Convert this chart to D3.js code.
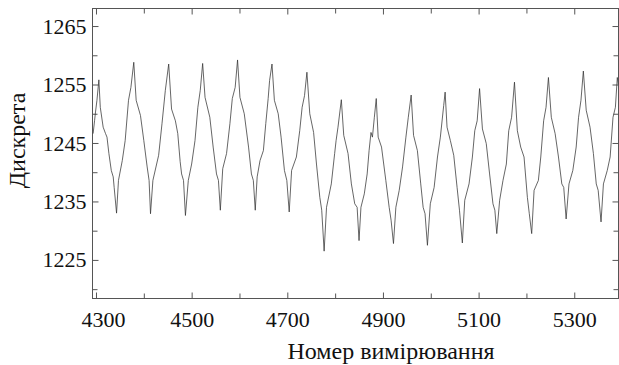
<!DOCTYPE html>
<html>
<head>
<meta charset="utf-8">
<script src="https://cdn.jsdelivr.net/npm/d3@7"></script>
<style>
  html, body { margin: 0; padding: 0; background: #fff; }
  svg text { font-family: "Liberation Serif", "Times New Roman", Times, "DejaVu Serif", serif !important; fill: #111; }
</style>
</head>
<body>
<svg id="chart" width="619" height="365"></svg>
<script>
const measurement = [
  4294,4297,4299,4302,4306,4309,4315,4320,4323,4327,4332,4336,4338,4343,4347,4355,4361,4368,4373,4379,
  4384,4393,4400,4407,4411,4414,4419,4431,4438,4445,4452,4458,4466,4471,4476,4479,4483,4487,4493,4500,
  4507,4513,4518,4523,4528,4538,4545,4552,4556,4560,4565,4573,4580,4585,4591,4596,4601,4610,4619,4625,
  4629,4633,4637,4643,4650,4655,4660,4663,4668,4673,4681,4687,4694,4699,4704,4709,4719,4726,4731,4736,
  4741,4747,4755,4761,4768,4772,4777,4782,4792,4799,4802,4806,4813,4818,4827,4834,4841,4846,4850,4854,
  4861,4867,4871,4875,4878,4882,4886,4890,4897,4906,4913,4917,4922,4927,4934,4941,4948,4953,4959,4964,
  4972,4979,4984,4988,4993,4999,5007,5014,5020,5027,5030,5034,5041,5048,5055,5060,5066,5071,5080,5087,
  5092,5097,5102,5108,5116,5123,5130,5134,5138,5144,5151,5158,5163,5169,5175,5181,5188,5195,5202,5206,
  5211,5216,5225,5230,5236,5241,5246,5252,5260,5267,5274,5278,5283,5289,5297,5304,5309,5314,5319,5325,
  5333,5340,5346,5350,5356,5361,5369,5375,5381,5386,5390,5392
];
const discrete = [
  1246.6,1248.8,1250.3,1252.3,1255.8,1251.1,1247.7,1246.6,1246.0,1243.2,1240.3,1239.2,1237.4,1233.0,1238.6,1242.0,1245.4,1252.3,1254.5,1258.8,
  1252.3,1249.7,1245.4,1240.9,1238.6,1232.9,1238.6,1242.9,1248.3,1254.0,1258.5,1250.8,1248.8,1246.6,1241.8,1239.7,1238.6,1232.6,1238.6,1241.4,
  1245.4,1251.1,1254.0,1258.6,1252.8,1249.4,1244.3,1239.7,1238.6,1233.5,1240.6,1243.2,1248.3,1252.6,1254.5,1259.2,1252.8,1250.0,1244.3,1239.7,
  1238.6,1233.5,1239.2,1242.0,1243.7,1248.3,1252.6,1255.7,1258.5,1252.3,1250.0,1246.0,1240.3,1238.6,1233.2,1240.3,1242.6,1247.1,1251.1,1253.1,
  1257.1,1250.0,1246.8,1241.4,1235.7,1233.5,1226.5,1234.0,1238.0,1243.2,1245.4,1247.7,1252.4,1246.3,1243.2,1238.0,1234.6,1234.0,1228.3,1234.0,
  1236.3,1239.7,1243.7,1246.8,1246.0,1249.4,1252.6,1246.0,1244.3,1238.6,1234.0,1231.8,1227.8,1234.0,1236.9,1240.9,1246.0,1249.4,1253.2,1246.3,
  1243.7,1238.0,1234.0,1232.9,1227.5,1234.6,1237.4,1242.6,1246.0,1251.4,1253.7,1247.7,1245.4,1242.9,1237.4,1233.5,1227.9,1235.2,1238.0,1242.6,
  1247.1,1248.8,1254.3,1247.4,1244.9,1239.7,1234.6,1233.5,1229.5,1235.2,1238.6,1241.4,1247.1,1249.4,1255.4,1247.1,1244.3,1242.6,1235.7,1232.9,
  1229.5,1236.9,1238.6,1242.6,1248.8,1251.1,1256.2,1249.4,1246.6,1242.6,1238.0,1237.4,1232.0,1238.0,1240.3,1244.3,1249.4,1252.3,1257.3,1250.6,
  1247.7,1243.2,1238.0,1236.9,1231.5,1238.0,1240.3,1242.6,1249.4,1251.1,1256.2,1255.0
];
const xMajorTicks = [4300, 4500, 4700, 4900, 5100, 5300];
const xMinorTicks = [4400, 4600, 4800, 5000, 5200];
const yMajorTicks = [1225, 1235, 1245, 1255, 1265];
const yMinorTicks = [1220, 1230, 1240, 1250, 1260];
const xTitle = "Номер вимірювання";
const yTitle = "Дискрета";

const svg = d3.select("#chart");
const L = 92.5, R = 618.5, T = 8.5, B = 298.5;

const x = d3.scaleLinear().domain([4292.7, 5392.5]).range([L, R]);
const y = d3.scaleLinear().domain([1218.4, 1268.0]).range([B, T]);

const axisColor = "#555";
const fontSize = 22;
const titleSize = 24;
const serif = "'Liberation Serif', 'Times New Roman', Times, 'DejaVu Serif', serif";

// frame
svg.append("rect")
  .attr("x", L).attr("y", T).attr("width", R - L).attr("height", B - T)
  .attr("fill", "none").attr("stroke", axisColor).attr("stroke-width", 1);

function styleAxis(g) {
  g.attr("font-family", null);
  g.select(".domain").remove();
  g.selectAll(".tick line").attr("stroke", axisColor).attr("stroke-width", 1);
  g.selectAll("text").attr("font-size", fontSize).attr("fill", "#111")
    .style("font-family", serif);
}

// bottom major
const bx = svg.append("g").attr("transform", `translate(0,${B})`)
  .call(d3.axisBottom(x).tickValues(xMajorTicks).tickSize(-6).tickPadding(13).tickFormat(d3.format("d")))
  .call(styleAxis);
// first label sits slightly right of its tick, as in the reference
bx.selectAll(".tick text").filter(d => d === xMajorTicks[0]).attr("dx", 7);
// bottom minor
svg.append("g").attr("transform", `translate(0,${B})`)
  .call(d3.axisBottom(x).tickValues(xMinorTicks).tickSize(-5).tickFormat(""))
  .call(styleAxis);
// top
svg.append("g").attr("transform", `translate(0,${T})`)
  .call(d3.axisTop(x).tickValues(xMajorTicks).tickSize(-6).tickFormat(""))
  .call(styleAxis);
svg.append("g").attr("transform", `translate(0,${T})`)
  .call(d3.axisTop(x).tickValues(xMinorTicks).tickSize(-5).tickFormat(""))
  .call(styleAxis);
// left
svg.append("g").attr("transform", `translate(${L},0)`)
  .call(d3.axisLeft(y).tickValues(yMajorTicks).tickSize(-6).tickPadding(6).tickFormat(d3.format("d")))
  .call(styleAxis);
svg.append("g").attr("transform", `translate(${L},0)`)
  .call(d3.axisLeft(y).tickValues(yMinorTicks).tickSize(-5).tickFormat(""))
  .call(styleAxis);
// right
svg.append("g").attr("transform", `translate(${R},0)`)
  .call(d3.axisRight(y).tickValues(yMajorTicks).tickSize(-6).tickFormat(""))
  .call(styleAxis);
svg.append("g").attr("transform", `translate(${R},0)`)
  .call(d3.axisRight(y).tickValues(yMinorTicks).tickSize(-5).tickFormat(""))
  .call(styleAxis);

// data line
const data = measurement.map((m, i) => [m, discrete[i]]);
svg.append("defs").append("clipPath").attr("id", "clip")
  .append("rect").attr("x", L).attr("y", T).attr("width", R - L).attr("height", B - T);
svg.append("path")
  .datum(data)
  .attr("clip-path", "url(#clip)")
  .attr("fill", "none")
  .attr("stroke", "#333")
  .attr("stroke-width", 0.75)
  .attr("stroke-linejoin", "miter")
  .attr("d", d3.line().x(d => x(d[0])).y(d => y(d[1])));

// titles
svg.append("text")
  .attr("x", 391).attr("y", 359)
  .attr("text-anchor", "middle")
  .attr("font-size", titleSize)
  .style("font-family", serif)
  .text(xTitle);
svg.append("text")
  .attr("transform", "translate(25,140.5) rotate(-90)")
  .attr("text-anchor", "middle")
  .attr("font-size", titleSize)
  .style("font-family", serif)
  .text(yTitle);
</script>
</body>
</html>
